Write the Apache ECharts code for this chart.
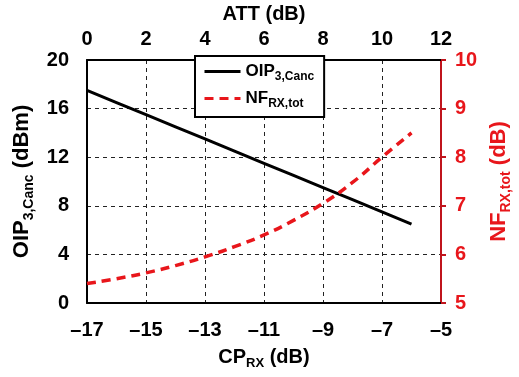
<!DOCTYPE html>
<html><head><meta charset="utf-8">
<script src="https://cdn.jsdelivr.net/npm/echarts@6/dist/echarts.min.js"></script>
<style>html,body{margin:0;padding:0;background:#fff}#c{width:519px;height:377px}</style>
</head><body><div id="c"></div>
<script>
const cpRx = [-17, -16, -15, -14, -13, -12, -11, -10, -9, -8, -7, -6];
const oip3Canc = [17.5, 16.5, 15.5, 14.5, 13.5, 12.5, 11.5, 10.5, 9.5, 8.5, 7.5, 6.5];
const nfRxTot = [5.4, 5.5, 5.62, 5.77, 5.95, 6.16, 6.4, 6.7, 7.05, 7.48, 8.0, 8.5];
const bottomTicks = [-17, -5, 2];
const topTicks = [0, 12, 2];
const leftTicks = [0, 20, 4];
const rightTicks = [5, 10, 1];

const FONT = 'Liberation Sans, Arial, sans-serif';
const RED = '#e8161b';
const lab = (c, s) => ({fontFamily: FONT, fontWeight: 'bold', fontSize: s, color: c});
const subRich = (c, s, ss) => ({
  m: {fontFamily: FONT, fontWeight: 'bold', fontSize: s, color: c},
  s: {fontFamily: FONT, fontWeight: 'bold', fontSize: ss, color: c, verticalAlign: 'bottom', padding: [0, 0, -3, 0]}
});
const grid = {show: true, lineStyle: {color: '#222', type: [4, 4], width: 1}};

const chart = echarts.init(document.getElementById('c'), null, {renderer: 'canvas'});
chart.setOption({
  animation: false,
  backgroundColor: '#fff',
  grid: {left: 87, right: 78, top: 60, bottom: 74, show: false, containLabel: false, outerBoundsMode: 'none'},
  legend: {
    show: true, orient: 'vertical', left: 195, top: 56,
    backgroundColor: '#fff', borderColor: '#000', borderWidth: 2, borderRadius: 0,
    padding: [7, 10, 7, 8], itemGap: 7, itemWidth: 36, itemHeight: 14,
    itemStyle: {opacity: 0},
    lineStyle: {width: 3},
    data: ['oip', 'nf'],
    formatter: n => n === 'oip' ? '{m|OIP}{s|3,Canc}' : '{m|NF}{s|RX,tot}',
    textStyle: {color: '#000', rich: subRich('#000', 17, 12)}
  },
  xAxis: [
    {type: 'value', position: 'bottom', min: bottomTicks[0], max: bottomTicks[1], interval: bottomTicks[2],
     axisLine: {show: true, onZero: false, lineStyle: {color: '#000', width: 2}},
     axisTick: {show: false},
     axisLabel: {...lab('#000', 20), margin: 17, formatter: v => String(v).replace('-', '\u2013')},
     splitLine: grid,
     name: '{m|CP}{s|RX}{m| (dB)}', nameLocation: 'middle', nameGap: 44,
     nameTextStyle: {rich: subRich('#000', 20, 13)}},
    {type: 'value', position: 'top', min: topTicks[0], max: topTicks[1], interval: topTicks[2],
     axisLine: {show: true, onZero: false, lineStyle: {color: '#000', width: 2}},
     axisTick: {show: false},
     axisLabel: {...lab('#000', 20), margin: 11},
     splitLine: {show: false},
     name: 'ATT (dB)', nameLocation: 'middle', nameGap: 35,
     nameTextStyle: lab('#000', 20)}
  ],
  yAxis: [
    {type: 'value', position: 'left', min: leftTicks[0], max: leftTicks[1], interval: leftTicks[2],
     axisLine: {show: true, onZero: false, lineStyle: {color: '#000', width: 2}},
     axisTick: {show: false},
     axisLabel: {...lab('#000', 20), margin: 18},
     splitLine: grid,
     name: '{m|OIP}{s|3,Canc}{m| (dBm)}', nameLocation: 'middle', nameRotate: 90, nameGap: 52,
     nameTextStyle: {rich: subRich('#000', 22, 14)}},
    {type: 'value', position: 'right', min: rightTicks[0], max: rightTicks[1], interval: rightTicks[2],
     axisLine: {show: true, onZero: false, lineStyle: {color: '#c0141c', width: 2}},
     axisTick: {show: true, inside: false, length: 5, lineStyle: {color: '#c0141c', width: 2}},
     axisLabel: {...lab(RED, 20), margin: 14},
     splitLine: {show: false},
     name: '{m|NF}{s|RX,tot}{m| (dB)}', nameLocation: 'middle', nameRotate: 90, nameGap: 47,
     nameTextStyle: {rich: subRich(RED, 22, 14)}}
  ],
  series: [
    {name: 'oip', type: 'line', xAxisIndex: 0, yAxisIndex: 0, showSymbol: false, symbol: 'none',
     data: cpRx.map((x, i) => [x, oip3Canc[i]]),
     lineStyle: {color: '#000', width: 3}, itemStyle: {color: '#000'}},
    {name: 'nf', type: 'line', xAxisIndex: 0, yAxisIndex: 1, showSymbol: false, symbol: 'none', smooth: true,
     data: cpRx.map((x, i) => [x, nfRxTot[i]]),
     lineStyle: {color: RED, width: 3.5, type: [9, 6]}, itemStyle: {color: RED}}
  ]
});
</script></body></html>
